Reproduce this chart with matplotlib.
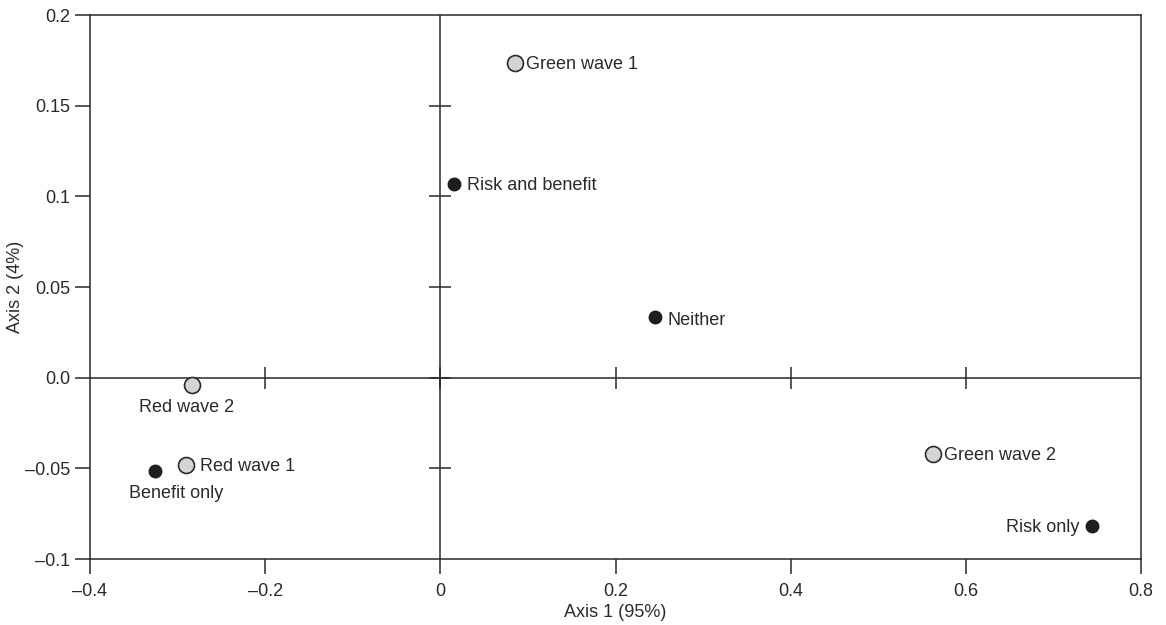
import matplotlib
matplotlib.use("Agg")
import matplotlib.pyplot as plt

# correspondence analysis coordinates
names = ["Green wave 1", "Risk and benefit", "Neither", "Red wave 2",
         "Red wave 1", "Benefit only", "Green wave 2", "Risk only"]
axis1 = [0.085, 0.016, 0.245, -0.283, -0.290, -0.326, 0.562, 0.744]
axis2 = [0.1736, 0.1068, 0.0333, -0.0040, -0.0481, -0.0515, -0.0421, -0.0818]
is_wave = [True, False, False, True, True, False, True, False]

xticks = [-0.4, -0.2, 0, 0.2, 0.4, 0.6, 0.8]
xlabels = ["\u20130.4", "\u20130.2", "0", "0.2", "0.4", "0.6", "0.8"]
yticks = [-0.1, -0.05, 0.0, 0.05, 0.1, 0.15, 0.2]
ylabels = ["\u20130.1", "\u20130.05", "0.0", "0.05", "0.1", "0.15", "0.2"]

plt.rcParams["font.family"] = ["Liberation Sans", "DejaVu Sans"]
ink = "#2a2a2a"
fs = 13

fig = plt.figure(figsize=(11.66, 6.25), dpi=100)
ax = fig.add_axes([90 / 1166, 1 - 559 / 625, 1051 / 1166, 544 / 625])
ax.set_xlim(-0.4, 0.8)
ax.set_ylim(-0.1, 0.2)

for s in ax.spines.values():
    s.set_color(ink)
    s.set_linewidth(1.1)

ax.set_xticks(xticks)
ax.set_xticklabels(xlabels)
ax.set_yticks(yticks)
ax.set_yticklabels(ylabels)
ax.tick_params(direction="out", length=11, width=1.1, color=ink,
               labelsize=fs, labelcolor=ink)
ax.tick_params(axis="x", pad=6)
ax.tick_params(axis="y", pad=3)

# zero lines with crossing ticks
ax.axhline(0, color=ink, lw=1.1, zorder=1)
ax.axvline(0, color=ink, lw=1.1, zorder=1)
ax.plot(xticks[1:-1], [0] * len(xticks[1:-1]), ls="none", marker="|",
        ms=16, mew=1.1, color=ink, zorder=1)
ax.plot([0] * len(yticks[1:-1]), yticks[1:-1], ls="none", marker="_",
        ms=16, mew=1.1, color=ink, zorder=1)

# points
for x, y, w in zip(axis1, axis2, is_wave):
    if w:
        ax.plot(x, y, "o", ms=11.5, mfc="#d3d4d6", mec=ink, mew=1.2, zorder=3)
    else:
        ax.plot(x, y, "o", ms=9, mfc="#1e1e1e", mec="#1e1e1e", zorder=3)

# labels
offsets = {
    "Green wave 1": (8, -1, "left", "center"),
    "Risk and benefit": (9, -1, "left", "center"),
    "Neither": (9, -2, "left", "center"),
    "Red wave 2": (-4, -10, "center", "top"),
    "Red wave 1": (10, -1, "left", "center"),
    "Benefit only": (15, -10, "center", "top"),
    "Green wave 2": (8, -1, "left", "center"),
    "Risk only": (-9, -1, "right", "center"),
}
for n, x, y in zip(names, axis1, axis2):
    dx, dy, ha, va = offsets[n]
    ax.annotate(n, (x, y), xytext=(dx, dy), textcoords="offset points",
                ha=ha, va=va, fontsize=fs, color=ink)

ax.set_xlabel("Axis 1 (95%)", fontsize=fs, color=ink, labelpad=3)
ax.set_ylabel("Axis 2 (4%)", fontsize=fs, color=ink, labelpad=1)

fig.savefig("out.png", dpi=100)
